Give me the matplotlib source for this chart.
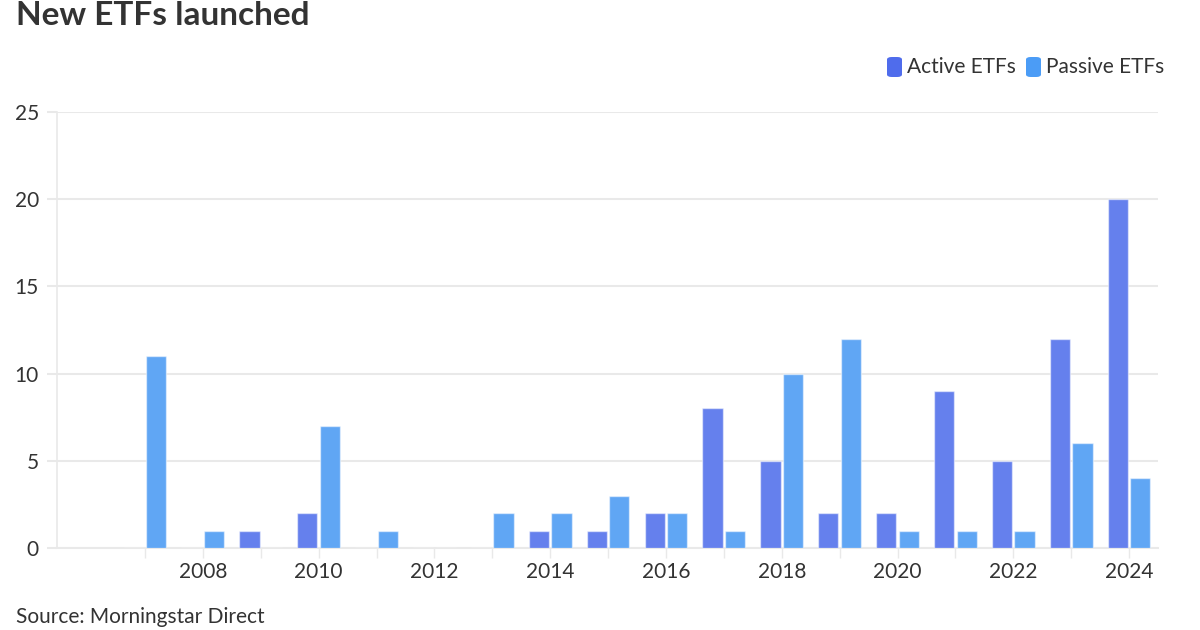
import numpy as np
import matplotlib.pyplot as plt
from matplotlib.patches import FancyBboxPatch

# launches per year
years = np.arange(2007, 2025)
active_etfs = [0, 0, 1, 2, 0, 0, 0, 1, 1, 2, 8, 5, 2, 2, 9, 5, 12, 20]
passive_etfs = [11, 1, 0, 7, 1, 0, 2, 2, 3, 2, 1, 10, 12, 1, 1, 1, 6, 4]
series_names = ['Active ETFs', 'Passive ETFs']
label_years = list(range(2008, 2025, 2))
y_ticks = [0, 5, 10, 15, 20, 25]

ACTIVE_BAR = '#6580ED'
PASSIVE_BAR = '#60A6F4'
ACTIVE_KEY = '#4F6CEC'
PASSIVE_KEY = '#4B9CF6'
TEXT = '#333333'
GRID = '#E9E9E9'

plt.rcParams['font.family'] = ['Lato', 'DejaVu Sans']

W, H = 1200, 630
fig = plt.figure(figsize=(W / 100, H / 100), dpi=100)
fig.patch.set_facecolor('white')

ax = fig.add_axes([57 / W, 1 - 548 / H, (1158 - 57) / W, (548 - 112) / H])

bw = 0.35
ax.bar(years - 0.195, active_etfs, width=bw, color=ACTIVE_BAR,
       edgecolor=(1, 1, 1, 0.5), linewidth=1, zorder=3)
ax.bar(years + 0.195, passive_etfs, width=bw, color=PASSIVE_BAR,
       edgecolor=(1, 1, 1, 0.5), linewidth=1, zorder=3)

ax.set_xlim(2005.48, 2024.5)
ax.set_ylim(0, 25)

ax.set_yticks(y_ticks)
ax.set_yticklabels([str(v) for v in y_ticks])
ax.yaxis.grid(True, color=GRID, linewidth=1.5, zorder=0)
ax.tick_params(axis='y', length=7, width=1.5, color=GRID, pad=6,
               labelsize=15, labelcolor=TEXT)

ax.set_xticks(years)
ax.set_xticklabels([str(y) if y in label_years else '' for y in years])
ax.tick_params(axis='x', length=7, width=1, color=GRID, pad=3,
               labelsize=15, labelcolor=TEXT)

for s in ['top', 'right']:
    ax.spines[s].set_visible(False)
ax.spines['left'].set_color(GRID)
ax.spines['left'].set_linewidth(1.2)
ax.spines['bottom'].set_color(GRID)
ax.spines['bottom'].set_linewidth(1.5)
ax.set_axisbelow(True)

# title and source
fig.text(16 / W, 1 - 25 / H, 'New ETFs launched', fontsize=24,
         fontweight='bold', color=TEXT, ha='left', va='baseline')
fig.text(16 / W, 1 - 627 / H, 'Source: Morningstar Direct', fontsize=15,
         color=TEXT, ha='left', va='bottom')

# legend
keys = [(887, ACTIVE_KEY, series_names[0]), (1026, PASSIVE_KEY, series_names[1])]
for x0, col, name in keys:
    fig.patches.append(FancyBboxPatch((x0 / W, 1 - 77 / H), 15 / W, 20 / H,
                                      boxstyle='round,pad=0,rounding_size=0.004',
                                      transform=fig.transFigure,
                                      facecolor=col, edgecolor='none'))
    fig.text((x0 + 20) / W, 1 - 67 / H, name, fontsize=15, color=TEXT,
             ha='left', va='center')

fig.savefig('out.png', dpi=100)
